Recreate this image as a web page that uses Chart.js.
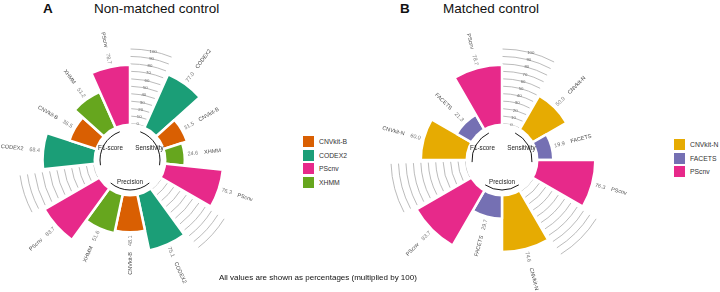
<!DOCTYPE html>
<html>
<head>
<meta charset="utf-8">
<script src="https://cdn.jsdelivr.net/npm/chart.js@4.4.1/dist/chart.umd.min.js"></script>
<style>
  body { margin: 0; width: 720px; height: 292px; position: relative; background: #fff; overflow: hidden;
         font-family: "Liberation Sans", Arial, sans-serif; }
  .wrap { position: absolute; top: 0; width: 300px; height: 292px; }
  #wrapA { left: 0; }
  #wrapB { left: 360px; }
  .tag { position: absolute; top: 2px; font-size: 13.5px; line-height: 13.5px; font-weight: bold; color: #111; }
  .ttl { position: absolute; top: 2px; font-size: 13.5px; line-height: 13.5px; color: #111; }
  .legend { position: absolute; font-size: 6.8px; color: #333; }
  .legend .item { display: flex; align-items: center; height: 13.7px; }
  .legend .sw { width: 11px; height: 11px; margin-right: 5px; }
  .note { position: absolute; left: 219px; top: 273px; font-size: 8px; line-height: 10px; color: #111; white-space: nowrap; }
</style>
</head>
<body>
<div class="tag" style="left:43px">A</div>
<div class="ttl" style="left:94px">Non-matched control</div>
<div class="tag" style="left:400px">B</div>
<div class="ttl" style="left:443px">Matched control</div>

<div class="wrap" id="wrapA"><canvas id="chartA"></canvas></div>
<div class="wrap" id="wrapB"><canvas id="chartB"></canvas></div>

<div class="legend" id="legendA" style="left:303px; top:134.5px"></div>
<div class="legend" id="legendB" style="left:674px; top:137.5px"></div>

<div class="note">All values are shown as percentages (multiplied by 100)</div>

<script>
// metric groups, in clockwise order starting after the top gap
const metrics = ['Sensitivity', 'Precision', 'F1-score'];

// panel A - non-matched control
const toolsA = ['CODEX2', 'CNVkit-B', 'XHMM', 'PScnv'];
const sensitivityA = [77.0, 31.5, 24.6, 76.3];
const precisionA = [75.1, 48.1, 51.6, 83.7];
const f1A = [68.4, 36.5, 51.2, 78.7];
const legendA = ['CNVkit-B', 'CODEX2', 'PScnv', 'XHMM'];

// panel B - matched control
const toolsB = ['CNVkit-N', 'FACETS', 'PScnv'];
const sensitivityB = [50.9, 19.9, 76.3];
const precisionB = [74.6, 29.7, 83.7];
const f1B = [60.0, 21.3, 78.7];
const legendB = ['CNVkit-N', 'FACETS', 'PScnv'];

// scale rings
const ringTicks = [0, 10, 20, 30, 40, 50, 60, 70, 80, 90, 100];

const toolColors = {
    'CNVkit-B': '#D95F02',
    'CODEX2': '#1B9E77',
    'PScnv': '#E7298A',
    'XHMM': '#66A61E',
    'CNVkit-N': '#E6AB02',
    'FACETS': '#7570B3'
};

const FONT = '"Liberation Sans", Arial, sans-serif';

// one empty slot in front of every metric group
function buildSlots(tools, series) {
    const values = [], names = [], groupOf = [];
    series.forEach(function(vals, g) {
        values.push(null); names.push(''); groupOf.push(-1);
        vals.forEach(function(v, i) {
            values.push(v); names.push(tools[i]); groupOf.push(g);
        });
    });
    return { values: values, names: names, groupOf: groupOf };
}

const circularDecor = {
    id: 'circularDecor',
    beforeDatasetsDraw: function(chart) {
        const ctx = chart.ctx;
        const scale = chart.scales.r;
        const meta = chart.getDatasetMeta(0);
        const names = chart.data.labels;
        ctx.save();
        ctx.strokeStyle = '#a9a9a9';
        ctx.lineWidth = 0.8;
        meta.data.forEach(function(arc, i) {
            if (names[i] !== '') return;
            const pad = i === 0 ? 0.005 : 0.035;
            ringTicks.forEach(function(t) {
                const r = scale.getDistanceFromCenterForValue(t);
                ctx.beginPath();
                ctx.arc(scale.xCenter, scale.yCenter, r, arc.startAngle + pad, arc.endAngle - 0.035);
                ctx.stroke();
            });
        });
        ctx.restore();
    },
    afterDatasetsDraw: function(chart) {
        const ctx = chart.ctx;
        const scale = chart.scales.r;
        const meta = chart.getDatasetMeta(0);
        const names = chart.data.labels;
        const values = chart.data.datasets[0].data;
        const groupOf = chart.options.plugins.circularDecor.groupOf;
        const cx = scale.xCenter, cy = scale.yCenter;
        const r0 = scale.getDistanceFromCenterForValue(0);

        ctx.save();
        // hole in the middle
        ctx.fillStyle = '#fff';
        ctx.beginPath();
        ctx.arc(cx, cy, r0, 0, Math.PI * 2);
        ctx.fill();

        // ring values in the top gap
        const top = meta.data[0];
        const topMid = (top.startAngle + top.endAngle) / 2;
        ctx.font = '4.3px ' + FONT;
        ctx.fillStyle = '#666';
        ctx.textAlign = 'center';
        ctx.textBaseline = 'middle';
        ringTicks.forEach(function(t) {
            const r = scale.getDistanceFromCenterForValue(t);
            ctx.fillText(String(t), cx + r * Math.cos(topMid), cy + r * Math.sin(topMid));
        });

        // bar labels
        ctx.font = '5.5px ' + FONT;
        meta.data.forEach(function(arc, i) {
            const v = values[i];
            if (v === null) return;
            const mid = (arc.startAngle + arc.endAngle) / 2;
            const r = scale.getDistanceFromCenterForValue(v) + 3;
            let fromTop = (mid + Math.PI / 2) % (Math.PI * 2);
            if (fromTop < 0) fromTop += Math.PI * 2;
            const txt = v.toFixed(1);
            const vw = ctx.measureText(txt).width;
            ctx.save();
            ctx.translate(cx, cy);
            if (fromTop < Math.PI) {
                ctx.rotate(mid);
                ctx.textAlign = 'left';
                ctx.fillStyle = '#7a7a7a';
                ctx.fillText(txt, r, 0);
                ctx.fillStyle = '#4a4a4a';
                ctx.fillText(names[i], r + vw + 6, 0);
            } else {
                ctx.rotate(mid + Math.PI);
                ctx.textAlign = 'right';
                ctx.fillStyle = '#7a7a7a';
                ctx.fillText(txt, -r, 0);
                ctx.fillStyle = '#4a4a4a';
                ctx.fillText(names[i], -r - vw - 6, 0);
            }
            ctx.restore();
        });

        // group arcs + metric names
        metrics.forEach(function(m, g) {
            const idx = [];
            groupOf.forEach(function(gg, i) { if (gg === g) idx.push(i); });
            const a = meta.data[idx[0]], b = meta.data[idx[idx.length - 1]];
            const am = (a.startAngle + b.startAngle) / 2;
            const half = (b.startAngle - a.startAngle) / 2 + 0.07;
            ctx.strokeStyle = '#1a1a1a';
            ctx.lineWidth = 1;
            ctx.beginPath();
            ctx.arc(cx, cy, r0 - 6.5, am - half, am + half);
            ctx.stroke();
            ctx.font = '6.3px ' + FONT;
            ctx.fillStyle = '#222';
            ctx.textAlign = 'center';
            ctx.fillText(m, cx + (r0 - 14) * Math.cos(am), cy + (r0 - 14) * Math.sin(am));
        });
        ctx.restore();
    }
};

function makeChart(canvasId, tools, series, padding) {
    const s = buildSlots(tools, series);
    return new Chart(document.getElementById(canvasId), {
        type: 'polarArea',
        data: {
            labels: s.names,
            datasets: [{
                data: s.values,
                backgroundColor: s.names.map(function(n) { return n ? toolColors[n] : 'rgba(0,0,0,0)'; }),
                borderColor: '#ffffff',
                borderWidth: 2.5
            }]
        },
        options: {
            responsive: true,
            maintainAspectRatio: false,
            animation: false,
            layout: { padding: padding },
            scales: {
                r: {
                    min: -49,
                    max: 100,
                    startAngle: 0,
                    ticks: { display: false },
                    grid: { display: false },
                    angleLines: { display: false },
                    pointLabels: { display: false }
                }
            },
            plugins: {
                legend: { display: false },
                tooltip: { enabled: false },
                circularDecor: { groupOf: s.groupOf }
            }
        },
        plugins: [circularDecor]
    });
}

function makeLegend(el, names) {
    names.forEach(function(n) {
        const row = document.createElement('div');
        row.className = 'item';
        const sw = document.createElement('div');
        sw.className = 'sw';
        sw.style.background = toolColors[n];
        const lab = document.createElement('span');
        lab.textContent = n;
        row.appendChild(sw);
        row.appendChild(lab);
        el.appendChild(row);
    });
}

makeChart('chartA', toolsA, [sensitivityA, precisionA, f1A], { left: 19, top: 49, right: 59, bottom: 21 });
makeChart('chartB', toolsB, [sensitivityB, precisionB, f1B], { left: 31, top: 49, right: 47, bottom: 21 });
makeLegend(document.getElementById('legendA'), legendA);
makeLegend(document.getElementById('legendB'), legendB);
</script>
</body>
</html>
